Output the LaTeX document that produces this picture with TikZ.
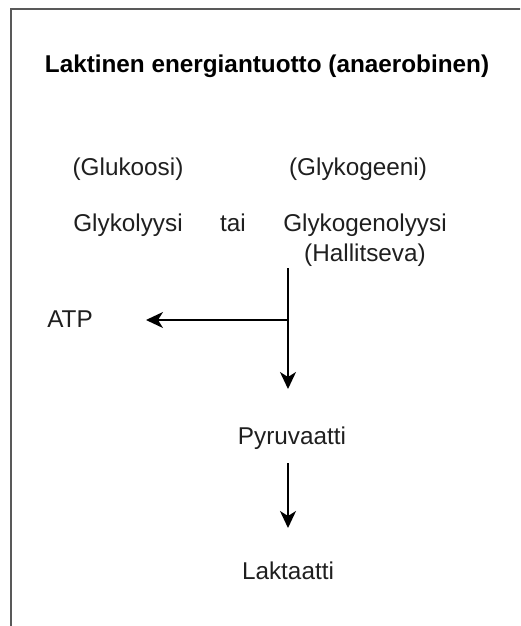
\documentclass[tikz,border=0pt]{standalone}
\usepackage{fontspec}
\setmainfont{Liberation Sans}
\usetikzlibrary{arrows.meta}

\tikzset{
  txt/.style={anchor=base, inner sep=0pt, text=black!88, font=\fontsize{24.3}{28}\selectfont},
  ttl/.style={anchor=base, inner sep=0pt, font=\fontsize{24.3}{29}\selectfont\bfseries},
  arr/.style={-{Stealth[length=17pt,width=16pt,inset=5pt]}, line width=1.6pt},
}

\begin{document}
\begin{tikzpicture}[x=1pt,y=-1pt]
\useasboundingbox (0,0) rectangle (520,626);
\clip (0,0) rectangle (520,626);
\fill[white] (0,0) rectangle (520,626);
\draw[black!65, line width=2pt] (11,9) rectangle (560,680);

\node[ttl] (title) at (267,72) {Laktinen energiantuotto (anaerobinen)};

\node[txt] (gluk) at (128,175) {(Glukoosi)};
\node[txt] (glyk) at (358,175) {(Glykogeeni)};

\node[txt] (glykol) at (128,231) {Glykolyysi};
\node[txt] (tai) at (233,231) {tai};
\node[txt] (glykogen) at (365,231) {Glykogenolyysi};
\node[txt] (hall) at (365,261) {(Hallitseva)};

\node[txt] (atp) at (70,327) {ATP};
\node[txt] (pyr) at (292,444) {Pyruvaatti};
\node[txt] (lak) at (288,579) {Laktaatti};

\coordinate (top) at (288,268);
\coordinate (fork) at (288,320);
\coordinate (atpin) at (146,320);
\coordinate (pyrin) at (288,389);
\coordinate (pyrout) at (288,463);
\coordinate (lakin) at (288,528);

\draw[arr] (top) -- (pyrin);
\draw[arr] (fork) -- (atpin);
\draw[arr] (pyrout) -- (lakin);
\end{tikzpicture}
\end{document}
